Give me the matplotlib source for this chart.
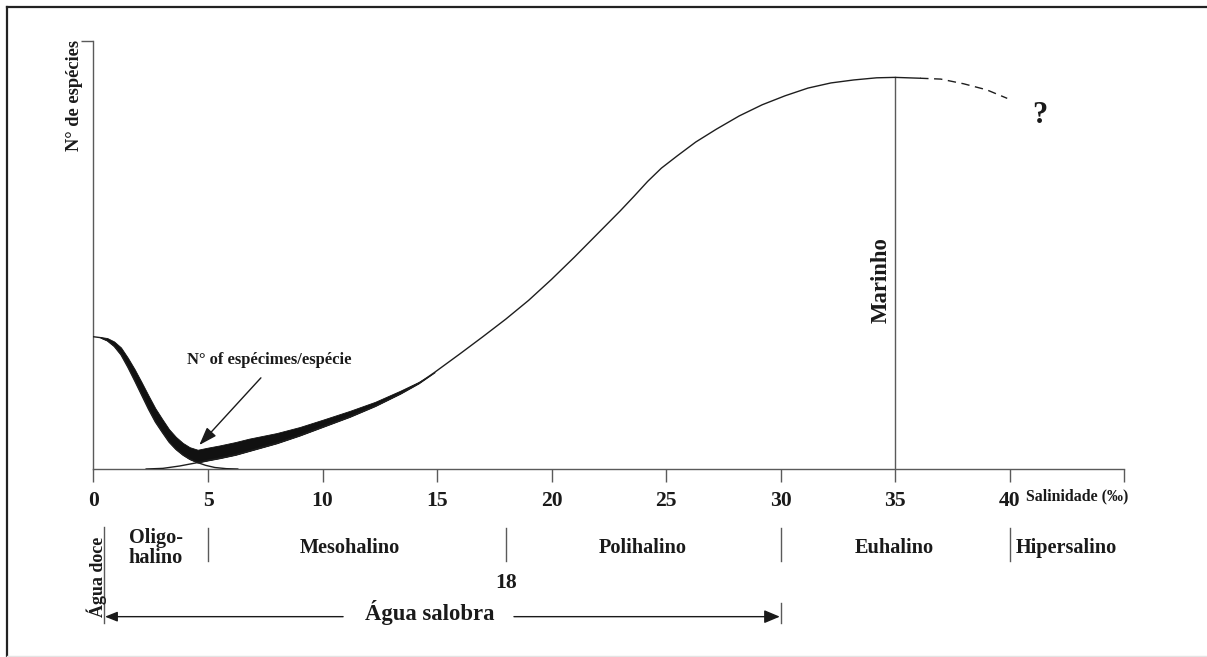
import matplotlib
matplotlib.use("Agg")
import matplotlib.pyplot as plt
from matplotlib.lines import Line2D

# ---------------- data ----------------
# salinity (per mille) on x; number of species in % of y-axis height
fresh_x = [0.0, 0.3, 0.6, 0.9, 1.2, 1.5, 1.8, 2.1, 2.4, 2.7, 3.0, 3.3, 3.6, 3.9, 4.2, 4.55,
           4.9, 5.3, 5.8, 6.3]
fresh_y = [30.9, 30.7, 30.0, 28.7, 26.7, 23.8, 20.6, 17.3, 14.0, 11.0, 8.6, 6.3, 4.6, 3.3, 2.3, 1.5,
           0.85, 0.35, 0.08, 0.0]

marine_x = [2.3, 3.03, 3.76, 4.55, 5.0, 5.5, 6.2, 6.8, 8.0, 9.0, 10.0, 11.2, 12.3, 13.4, 14.2, 14.9,
            16.0, 17.0, 18.0, 19.0, 20.0, 21.0, 22.0, 23.0, 23.6, 24.2, 24.8, 25.5, 26.3,
            27.2, 28.2, 29.2, 30.2, 31.2, 32.2, 33.2, 34.2, 35.0, 36.1]
marine_y = [0.0, 0.15, 0.7, 1.5, 2.0, 2.5, 3.3, 4.2, 6.0, 7.8, 9.8, 12.2, 14.7, 17.6, 20.0, 22.6,
            26.9, 30.9, 35.0, 39.4, 44.3, 49.5, 54.9, 60.3, 63.7, 67.2, 70.3, 73.2, 76.4,
            79.4, 82.5, 85.1, 87.2, 89.0, 90.2, 90.9, 91.4, 91.5, 91.3]

hyper_x = [36.1, 37.0, 38.0, 39.0, 39.9]
hyper_y = [91.3, 91.1, 90.0, 88.6, 86.6]

band_x = [0.3, 0.6, 0.9, 1.2, 1.5, 1.8, 2.1, 2.4, 2.7, 3.0, 3.3, 3.6, 3.9, 4.2, 4.55, 5.0, 5.5,
          6.2, 6.8, 8.0, 9.0, 10.0, 11.2, 12.3, 13.4, 14.2, 14.9]
band_lower = [30.7, 30.0, 28.7, 26.7, 23.8, 20.6, 17.3, 14.0, 11.0, 8.6, 6.3, 4.6, 3.3, 2.3, 1.5,
              2.0, 2.5, 3.3, 4.2, 6.0, 7.8, 9.8, 12.2, 14.7, 17.6, 20.0, 22.6]
band_upper = [30.85, 30.6, 29.8, 28.4, 26.0, 23.3, 20.3, 17.2, 14.2, 11.7, 9.3, 7.5, 6.1, 5.1, 4.5,
              5.0, 5.5, 6.3, 7.1, 8.4, 9.8, 11.5, 13.6, 15.7, 18.3, 20.35, 22.6]

marine_peak_x = 35.0
marine_peak_y = 91.5

xtick_vals = [0, 5, 10, 15, 20, 25, 30, 35, 40, 45]
xtick_labels = ["0", "5", "10", "15", "20", "25", "30", "35", "40", ""]

zone_bounds = [5, 18, 30, 40]
zone_names = ["Oligo-\nhalino", "Mesohalino", "Polihalino", "Euhalino", "Hipersalino"]
zone_centers = [2.73, 11.2, 24.0, 34.96, 42.5]

# ---------------- figure ----------------
SERIF = ["Liberation Serif", "DejaVu Serif"]
plt.rcParams["font.family"] = SERIF
plt.rcParams["font.weight"] = "bold"

W, H = 1207, 657
fig = plt.figure(figsize=(W / 100, H / 100), dpi=100)
fig.patch.set_facecolor("white")

ax = fig.add_axes([93.5 / W, (H - 469) / H, 1030.5 / W, 428 / H])
ax.set_xlim(0, 45)
ax.set_ylim(0, 100)
ax.patch.set_alpha(0)

axis_col = "#5a5a5a"
line_col = "#1e1e1e"
txt_col = "#1a1a1a"
for s in ["top", "right"]:
    ax.spines[s].set_visible(False)
for s in ["left", "bottom"]:
    ax.spines[s].set_color(axis_col)
    ax.spines[s].set_linewidth(1.0)

ax.set_xticks(xtick_vals)
ax.set_xticklabels(xtick_labels, fontsize=15.6, fontweight="bold")
ax.tick_params(axis="x", direction="out", length=9, width=1.0, color=axis_col, pad=6.5,
               labelcolor=txt_col)
ax.set_yticks([100])
ax.set_yticklabels([""])
ax.tick_params(axis="y", direction="out", length=8.6, width=1.0, color=axis_col)

# curves
ax.fill_between(band_x, band_lower, band_upper, color="#111111", lw=0.6, zorder=3)
ax.plot(fresh_x, fresh_y, color=line_col, lw=1.0, zorder=4)
ax.plot(marine_x, marine_y, color=line_col, lw=1.0, zorder=4)
ax.plot(hyper_x, hyper_y, color=line_col, lw=1.0, ls=(0, (6, 4)), zorder=4)
ax.plot([marine_peak_x, marine_peak_x], [0, marine_peak_y], color=axis_col, lw=1.0, zorder=2)

# texts in the plot
ax.text(-0.85, 100.2, "N° de espécies", rotation=90, ha="center", va="top",
        fontsize=13.2, fontweight="bold", color=txt_col)
ax.text(34.39, 44.2, "Marinho", rotation=90, ha="center", va="center",
        fontsize=16.4, fontweight="bold", color=txt_col)
ax.text(41.33, 82.6, "?", ha="center", va="center", fontsize=22, fontweight="bold",
        color=txt_col)
ax.text(7.66, 25.5, "N° of espécimes/espécie", ha="center", va="center",
        fontsize=11.9, fontweight="bold", color=txt_col)
ax.annotate("", xy=(4.62, 5.6), xytext=(7.31, 21.3), annotation_clip=False,
            arrowprops=dict(arrowstyle="-|>,head_length=1.1,head_width=0.38",
                            color=txt_col, lw=1.0, shrinkA=0, shrinkB=0))

ax.text(40.72, -6.3, "Salinidade (‰)", ha="left", va="center", fontsize=11.4,
        fontweight="bold", color=txt_col, clip_on=False)

# zone separators and labels
for b in zone_bounds:
    ax.plot([b, b], [-13.8, -21.5], color=axis_col, lw=1.0, clip_on=False)
for name, cx in zip(zone_names, zone_centers):
    ax.text(cx, -18.4, name, ha="center", va="center", fontsize=14.6, fontweight="bold",
            linespacing=1.02, color=txt_col, clip_on=False)

ax.text(18, -26.6, "18", ha="center", va="center", fontsize=15.6, fontweight="bold",
        color=txt_col, clip_on=False)

# água doce / água salobra
ax.plot([0.47, 0.47], [-13.55, -36.0], color=axis_col, lw=1.0, clip_on=False)
ax.plot([30, 30], [-31.3, -36.0], color=axis_col, lw=1.0, clip_on=False)
ax.text(0.14, -25.2, "Água doce", rotation=90, ha="center", va="center", fontsize=13,
        fontweight="bold", color=txt_col, clip_on=False)
ax.text(14.69, -33.6, "Água salobra", ha="center", va="center", fontsize=16.3,
        fontweight="bold", color=txt_col, clip_on=False)
ax.annotate("", xy=(0.5, -34.5), xytext=(10.9, -34.5), annotation_clip=False,
            arrowprops=dict(arrowstyle="-|>,head_length=0.75,head_width=0.3",
                            color=txt_col, lw=1.0, shrinkA=0, shrinkB=0))
ax.annotate("", xy=(29.97, -34.5), xytext=(18.36, -34.5), annotation_clip=False,
            arrowprops=dict(arrowstyle="-|>,head_length=0.95,head_width=0.4",
                            color=txt_col, lw=1.0, shrinkA=0, shrinkB=0))

# outer frame (left and top dark, bottom faint)
fx0, fy0 = 7 / W, 1 - 7 / H
fig.add_artist(Line2D([fx0, fx0], [0, fy0], transform=fig.transFigure, color="#222222", lw=1.6))
fig.add_artist(Line2D([fx0, 1], [fy0, fy0], transform=fig.transFigure, color="#222222", lw=1.6))
fig.add_artist(Line2D([fx0, 1], [1.5 / H, 1.5 / H], transform=fig.transFigure, color="#e4e4e4", lw=1.0))

fig.savefig("out.png", dpi=100, facecolor="white")
